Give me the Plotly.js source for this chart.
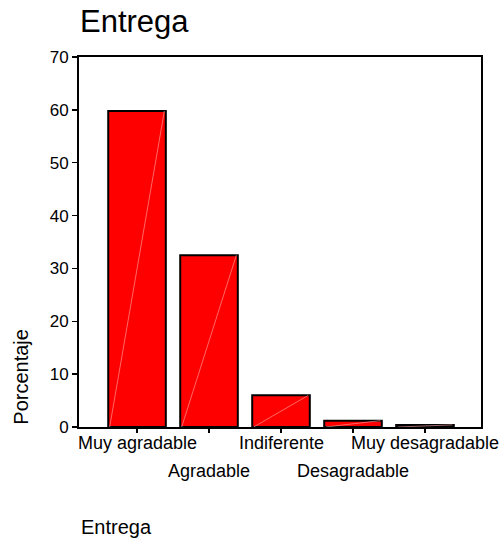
<!DOCTYPE html>
<html>
<head>
<meta charset="utf-8">
<script src="https://cdn.plot.ly/plotly-3.0.1.min.js"></script>
<style>html,body{margin:0;padding:0;background:#fff;}#chart{width:500px;height:539px;}</style>
</head>
<body>
<div id="chart"></div>
<script>
const categories = ["Muy agradable", "Agradable", "Indiferente", "Desagradable", "Muy desagradable"];
const percentages = [59.8, 32.5, 6.0, 1.2, 0.4];
const labelRow = [0, 1, 0, 1, 0];
const yTicks = [0, 10, 20, 30, 40, 50, 60, 70];
const chartTitle = "Entrega";
const xTitle = "Entrega";
const yTitle = "Porcentaje";

const FONT = "Liberation Sans, Arial, sans-serif";
const barWidth = 0.8;
const idx = categories.map((c, i) => i);

const trace = {
  type: "bar",
  x: idx,
  y: percentages,
  width: barWidth,
  marker: { color: "#ff0000", line: { color: "#000", width: 2 } },
  hoverinfo: "skip"
};

// faint diagonal streak inside each bar (rendering artifact of the original)
const shapes = percentages.map((v, i) => ({
  type: "line", xref: "x", yref: "y",
  x0: i - barWidth / 2 + 0.02, y0: 0, x1: i + barWidth / 2 - 0.02, y1: v,
  line: { color: "rgba(255,170,170,0.6)", width: 1 }
}));

const annotations = categories.map((c, i) => ({
  text: c, xref: "x", yref: "paper", x: i, y: 0,
  xanchor: "center", yanchor: "top", showarrow: false,
  yshift: labelRow[i] === 0 ? -4 : -32,
  font: { family: FONT, size: 18, color: "#000" }
}));
annotations.push({
  text: yTitle, xref: "paper", yref: "y", x: -0.145, y: 0,
  xanchor: "center", yanchor: "bottom", textangle: -90, showarrow: false,
  font: { family: FONT, size: 20, color: "#000" }
});
annotations.push({
  text: xTitle, xref: "paper", yref: "paper", x: 0, y: 0,
  xanchor: "left", yanchor: "top", yshift: -87, showarrow: false,
  font: { family: FONT, size: 20, color: "#000" }
});

const layout = {
  width: 500, height: 539,
  margin: { l: 79, r: 19, t: 57, b: 112 },
  paper_bgcolor: "#fff", plot_bgcolor: "#fff",
  showlegend: false,
  title: {
    text: chartTitle, xref: "container", yref: "container",
    x: 0.16, xanchor: "left", y: 1 - 21 / 539, yanchor: "middle",
    font: { family: FONT, size: 31, color: "#000" }
  },
  xaxis: {
    range: [-0.806, 4.778], tickvals: idx, showticklabels: false,
    ticks: "outside", ticklen: 4, tickwidth: 1.5, tickcolor: "#000",
    showline: true, linecolor: "#000", linewidth: 2, mirror: true,
    showgrid: false, zeroline: false, fixedrange: true
  },
  yaxis: {
    range: [0, 70], tickvals: yTicks,
    ticks: "outside", ticklen: 5, tickwidth: 1.5, tickcolor: "#000",
    showline: true, linecolor: "#000", linewidth: 2, mirror: true,
    showgrid: false, zeroline: false, fixedrange: true,
    tickfont: { family: FONT, size: 17, color: "#000" }
  },
  shapes: shapes,
  annotations: annotations
};

Plotly.newPlot("chart", [trace], layout, { displayModeBar: false, staticPlot: true });
</script>
</body>
</html>
